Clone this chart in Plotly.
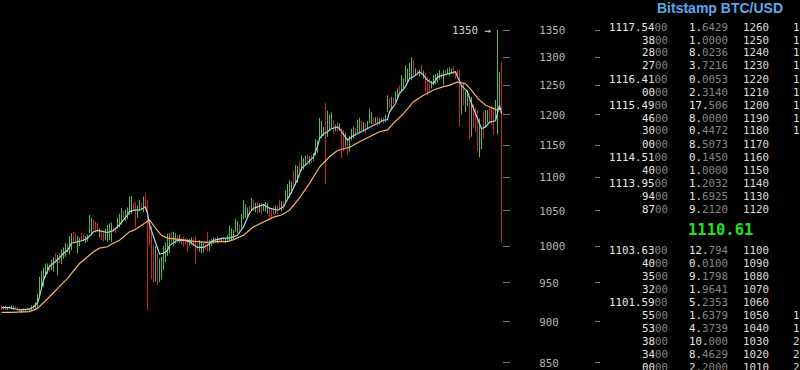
import math
import plotly.graph_objects as go

# ---------------- chart data ----------------
bar_high = [921,920,921,919,920,921,920,920,919,917,916,917,916,918,917,921,922,925,936,958,
            966,970,976,976,976,981,985,990,988,990,995,998,1005,1003,1014,1018,1020,1018,1014,1012,
            1018,1016,1014,1016,1044,1040,1037,1035,1033,1025,1022,1022,1024,1030,1032,1033,1026,1026,1040,1046,
            1054,1050,1052,1055,1071,1072,1062,1063,1058,1066,1062,1071,1076,1066,1035,1028,1001,1000,990,983,
            985,1000,1005,1017,1018,1020,1020,1018,1015,1016,1012,1013,1010,1011,1010,1012,1010,1013,1004,1008,
            1006,1004,1006,1020,1008,1010,1012,1012,1013,1011,1012,1013,1011,1015,1029,1025,1022,1038,1035,1030,
            1045,1066,1060,1055,1058,1069,1066,1062,1063,1061,1062,1060,1063,1062,1055,1053,1056,1058,1057,1066,
            1064,1065,1080,1090,1096,1094,1110,1119,1118,1125,1134,1130,1134,1136,1133,1135,1138,1160,1158,1195,
            1190,1180,1220,1207,1200,1204,1191,1184,1188,1186,1177,1175,1170,1162,1165,1177,1180,1178,1192,1195,
            1190,1188,1186,1190,1210,1205,1195,1196,1197,1195,1194,1195,1200,1233,1228,1230,1230,1240,1245,1250,
            1268,1262,1285,1280,1290,1300,1295,1280,1277,1278,1286,1276,1272,1265,1262,1258,1268,1270,1272,1277,
            1272,1277,1277,1280,1282,1280,1284,1275,1277,1277,1250,1255,1240,1242,1225,1230,1218,1212,1208,1194,
            1178,1205,1208,1208,1213,1216,1213,1225,1350,1274,1292]
bar_low = [915,916,915,915,916,916,915,916,914,913,911,912,912,913,914,915,916,917,918,932,
           942,945,958,962,965,967,965,977,960,976,975,982,985,990,988,994,1004,1005,990,1000,
           1008,1006,1004,1006,1018,1015,1022,1019,1020,1012,1008,1006,1008,1006,1008,1006,1020,1018,1025,1026,
           1030,1038,1035,1038,1044,1046,1052,1027,1040,1051,1051,1048,1051,915,1000,955,950,952,947,951,
           955,967,978,986,990,1004,1000,1003,1005,1004,1002,999,1002,992,1000,1002,1000,976,994,992,
           990,991,995,992,993,1000,1003,1005,1004,1005,1006,1005,1004,1006,1006,1008,1010,1020,1018,1018,
           1025,1038,1040,1042,1045,1051,1050,1048,1046,1048,1046,1050,1049,1046,1041,1040,1045,1046,1046,1051,
           1050,1052,1062,1068,1070,1075,1085,1088,1092,1100,1110,1112,1118,1124,1120,1122,1125,1134,1138,1160,
           1162,1165,1090,1164,1175,1177,1170,1173,1172,1174,1130,1140,1148,1135,1140,1158,1162,1165,1170,1172,
           1175,1172,1170,1176,1186,1185,1185,1186,1181,1184,1188,1186,1188,1205,1212,1208,1218,1222,1225,1235,
           1239,1245,1256,1255,1262,1259,1267,1268,1268,1266,1268,1262,1238,1233,1240,1245,1250,1252,1255,1260,
           1262,1251,1268,1270,1266,1270,1268,1262,1262,1181,1200,1216,1205,1215,1160,1164,1179,1172,1141,1131,
           1144,1162,1180,1187,1188,1184,1167,1191,1167,1208,1005]
bar_up = [0,1,0,1,0,1,1,0,0,0,1,0,1,0,1,1,0,1,1,1,
          1,1,1,1,0,1,1,0,1,0,1,1,1,0,1,1,0,0,1,1,
          0,0,1,1,1,1,0,0,0,1,0,0,1,1,1,1,0,0,1,1,
          1,0,1,1,1,1,0,0,1,1,0,1,0,0,0,0,0,1,0,1,
          1,1,1,1,1,0,1,1,0,1,0,0,0,0,1,1,0,0,0,1,
          1,1,0,0,1,1,1,0,1,0,1,0,1,1,1,1,1,1,1,0,
          1,1,1,1,0,1,0,1,0,1,0,1,1,1,0,0,0,1,0,0,
          1,0,1,1,1,1,0,1,1,0,1,1,1,0,1,0,1,1,1,1,
          1,1,0,1,1,1,0,1,0,1,0,0,1,0,1,1,1,0,1,1,
          0,1,0,1,1,1,0,1,0,1,1,0,1,1,0,1,0,1,1,0,
          1,1,1,1,1,1,0,1,0,1,0,1,0,0,0,1,1,1,1,1,
          0,1,0,1,1,1,0,0,0,0,1,0,1,1,0,1,0,0,0,1,
          1,0,1,1,0,0,0,1,1,1,0]

fast_idx = [0,4,9,14,16,18,19,21,24,28,31,33,35,38,41,43,46,48,51,53,
            56,59,63,64,66,69,72,73,74,76,78,79,81,83,84,88,91,94,98,101,
            103,106,111,114,118,121,124,126,128,131,134,138,141,143,145,148,150,153,156,158,
            159,161,163,165,168,169,172,173,175,178,181,184,188,191,193,194,197,199,202,204,
            206,208,209,211,213,216,218,221,224,227,228,230,233,235,238,240,242,244,247,248,
            249,250]
fast_val = [918,918,915,916,919,924,932,954,972,981,990,994,1004,1006,1008,1011,1020,1022,1020,1019,
            1022,1030,1044,1049,1051,1051,1056,1047,1030,1013,997,989,990,994,1001,1008,1008,1006,998,998,
            1001,1008,1011,1011,1015,1027,1047,1054,1056,1059,1054,1051,1056,1066,1078,1097,1114,1122,1132,1148,
            1161,1169,1172,1177,1180,1177,1164,1158,1164,1169,1175,1180,1187,1191,1192,1205,1219,1236,1248,1262,
            1265,1271,1274,1268,1259,1253,1265,1268,1271,1274,1265,1250,1239,1219,1194,1177,1180,1188,1190,1205,
            1216,1202]

slow_idx = [0,5,14,18,24,33,39,46,49,53,54,59,64,66,69,73,74,77,80,83,
            88,93,98,103,108,113,116,121,126,131,136,140,144,149,154,159,164,168,174,179,
            184,189,193,196,201,206,211,216,221,224,228,232,235,238,242,246,248,250]
slow_val = [912,912,913,917,932,956,976,992,997,999,1001,1008,1020,1022,1027,1035,1037,1025,1015,1011,
            1010,1008,1006,1005,1006,1006,1009,1015,1027,1034,1041,1044,1051,1069,1091,1116,1132,1142,1147,1156,
            1164,1172,1175,1186,1202,1222,1233,1242,1248,1250,1256,1253,1242,1228,1216,1211,1208,1211]

tick_vals = [850, 900, 950, 1000, 1050, 1100, 1150, 1200, 1250, 1300, 1350]

# ---------------- order book data ----------------
book_title = "Bitstamp BTC/USD"
last_price = "1110.61"
ask_price = ["1117.5400", "3800", "2800", "2700", "1116.4100", "0000", "1115.4900", "4600",
             "3000", "0000", "1114.5100", "4000", "1113.9500", "9400", "8700"]
ask_amount = ["1.6429", "1.0000", "8.0236", "3.7216", "0.0053", "2.3140", "17.506", "8.0000",
              "0.4472", "8.5073", "0.1450", "1.0000", "1.2032", "1.6925", "9.2120"]
ask_level = ["1260", "1250", "1240", "1230", "1220", "1210", "1200", "1190",
             "1180", "1170", "1160", "1150", "1140", "1130", "1120"]
ask_side = ["1", "1", "1", "1", "1", "1", "1", "1", "1", "", "", "", "", "", ""]
bid_price = ["1103.6300", "4000", "3500", "3200", "1101.5900", "5500", "5300", "3800", "3400", "0000"]
bid_amount = ["12.794", "0.0100", "9.1798", "1.9641", "5.2353", "1.6379", "4.3739", "10.000", "8.4629", "2.2000"]
bid_level = ["1100", "1090", "1080", "1070", "1060", "1050", "1040", "1030", "1020", "1010"]
bid_side = ["", "", "", "", "", "1", "1", "2", "2", "2"]

# ---------------- styling ----------------
W, H = 800, 370
BG = "#000000"
GREEN = "#4cc23c"
RED = "#d02424"
FAST = "#a6d4ee"
SLOW = "#f7b562"
MONO = "DejaVu Sans Mono"
BRIGHT = "#e6e6e6"
DIM = "#858585"
LEVEL = "#dcdad4"
AXIS_TXT = "#b4b4b4"
TICK = "#7a7a7a"

n = len(bar_high)


def segments(flag):
    sx, sy = [], []
    for i in range(n):
        if bar_up[i] == flag:
            sx += [i, i, None]
            sy += [bar_low[i], bar_high[i], None]
    return sx, sy


fig = go.Figure()
gx, gy = segments(1)
rx, ry = segments(0)
fig.add_trace(go.Scatter(x=gx, y=gy, mode="lines", line=dict(color=GREEN, width=1),
                         hoverinfo="skip", showlegend=False, connectgaps=False))
fig.add_trace(go.Scatter(x=rx, y=ry, mode="lines", line=dict(color=RED, width=1),
                         hoverinfo="skip", showlegend=False, connectgaps=False))
fig.add_trace(go.Scatter(x=slow_idx, y=slow_val, mode="lines",
                         line=dict(color=SLOW, width=1.2), hoverinfo="skip", showlegend=False))
fig.add_trace(go.Scatter(x=fast_idx, y=fast_val, mode="lines",
                         line=dict(color=FAST, width=1.2), hoverinfo="skip", showlegend=False))
# helper trace so the mirrored tick axis is drawn
fig.add_trace(go.Scatter(x=[0], y=[1000], yaxis="y2", mode="markers",
                         marker=dict(opacity=0), hoverinfo="skip", showlegend=False))

# y range (log) chosen so 1350 sits at 30 px and 850 near 363 px
px_per_ln = 719.0
y_top = math.log10(1350 * math.exp(30 / px_per_ln))
y_bot = math.log10(850 * math.exp(-7 / px_per_ln))
plot_right = 502 / W

axis_common = dict(type="log", range=[y_bot, y_top], tickvals=tick_vals, showgrid=False,
                   zeroline=False, showline=False, tickcolor=TICK, tickwidth=1)
fig.update_layout(
    width=W, height=H, margin=dict(l=0, r=0, t=0, b=0),
    paper_bgcolor=BG, plot_bgcolor=BG, showlegend=False,
    xaxis=dict(domain=[0, plot_right], range=[-0.75, n - 0.75], visible=False, fixedrange=True),
    yaxis=dict(side="right", ticks="outside", ticklen=7, ticklabelstandoff=27,
               ticktext=[str(v) for v in tick_vals],
               tickfont=dict(family=MONO, size=10.8, color=AXIS_TXT), **axis_common),
    yaxis2=dict(overlaying="y", anchor="free", position=600 / W, side="left",
                ticks="outside", ticklen=5, showticklabels=False, **axis_common),
)

annotations = []
# spike label
imax = max(range(n), key=lambda i: bar_high[i])
annotations.append(dict(x=imax, y=math.log10(bar_high[imax]), xref="x", yref="y",
                        text=f"{bar_high[imax]} →", showarrow=False, xanchor="right",
                        yanchor="middle", xshift=-4,
                        font=dict(family=MONO, size=10.8, color="#cfcfcf")))


def ypx(p):
    return 1 - p / H


def price_cell(s):
    return f"<span style='color:{BRIGHT}'>{s[:-2]}</span><span style='color:{DIM}'>{s[-2:]}</span>"


def amount_cell(s):
    k = s.index(".") + 1
    return f"<span style='color:{BRIGHT}'>{s[:k]}</span><span style='color:{DIM}'>{s[k:]}</span>"


def add_row(yp, pr, am, lv, sd):
    f = dict(family=MONO, size=10.8)
    annotations.append(dict(x=669.5 / W, y=ypx(yp), xref="paper", yref="paper", text=price_cell(pr),
                            showarrow=False, xanchor="right", yanchor="middle", font=f))
    annotations.append(dict(x=729.5 / W, y=ypx(yp), xref="paper", yref="paper", text=amount_cell(am),
                            showarrow=False, xanchor="right", yanchor="middle", font=f))
    annotations.append(dict(x=740.5 / W, y=ypx(yp), xref="paper", yref="paper", text=lv,
                            showarrow=False, xanchor="left", yanchor="middle",
                            font=dict(family=MONO, size=10.8, color=LEVEL)))
    if sd:
        annotations.append(dict(x=790.5 / W, y=ypx(yp), xref="paper", yref="paper", text=sd,
                                showarrow=False, xanchor="left", yanchor="middle",
                                font=dict(family=MONO, size=10.8, color=LEVEL)))


for k in range(len(ask_price)):
    add_row(27 + 13 * k, ask_price[k], ask_amount[k], ask_level[k], ask_side[k])
for k in range(len(bid_price)):
    add_row(250.7 + 13 * k, bid_price[k], bid_amount[k], bid_level[k], bid_side[k])

annotations.append(dict(x=720 / W, y=ypx(229.5), xref="paper", yref="paper", text=f"<b>{last_price}</b>",
                        showarrow=False, xanchor="center", yanchor="middle",
                        font=dict(family=MONO, size=15.5, color="#22e022")))
annotations.append(dict(x=720 / W, y=ypx(7.5), xref="paper", yref="paper", text=f"<b>{book_title}</b>",
                        showarrow=False, xanchor="center", yanchor="middle",
                        font=dict(family="Liberation Sans, Arial", size=14, color="#5aa9ee")))

fig.update_layout(annotations=annotations)
fig.write_html("out.html", config={"displayModeBar": False},
               post_script="document.body.style.margin='0';document.body.style.background='#000';")
